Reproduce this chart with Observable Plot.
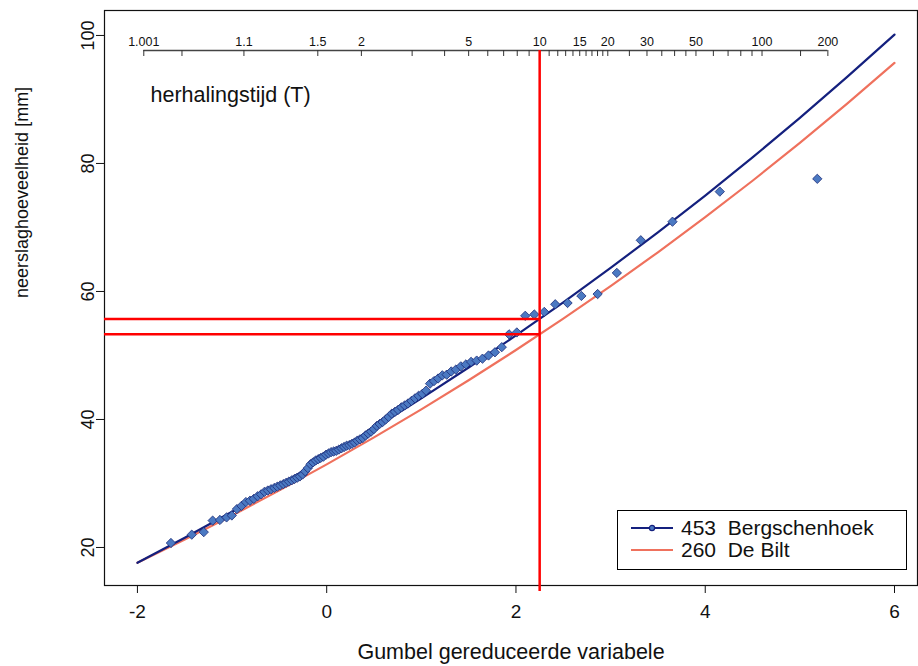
<!DOCTYPE html>
<html>
<head>
<meta charset="utf-8">
<script src="https://cdn.jsdelivr.net/npm/d3@7"></script>
<script src="https://cdn.jsdelivr.net/npm/@observablehq/plot@0.6"></script>
<style>
  body { margin: 0; background: #fff; font-family: "Liberation Sans", Arial, sans-serif; }
  #wrap { position: relative; width: 918px; height: 666px; }
  #legend { position: absolute; left: 617px; top: 510px; width: 288px; height: 58px; border: 1px solid #000; background: #fff; }
  #legend .row { position: absolute; left: 13px; display: flex; align-items: center; }
  #legend span { white-space: pre; font-size: 21px; color: #111; margin-left: 8px; line-height: 21px; }
</style>
</head>
<body>
<div id="wrap"></div>
<script>
// Gumbel reduced variate of the observed annual maxima (Bergschenhoek)
const gumbelX = [
  -1.646,-1.426,-1.299,-1.205,-1.128,-1.058,-1.003,-0.949,-0.900,-0.854,
  -0.811,-0.770,-0.730,-0.693,-0.657,-0.622,-0.588,-0.554,-0.522,-0.490,
  -0.459,-0.429,-0.399,-0.369,-0.340,-0.311,-0.283,-0.255,-0.227,-0.199,
  -0.171,-0.144,-0.116,-0.089,-0.062,-0.034,-0.007,0.020,0.047,0.074,
  0.101,0.129,0.156,0.184,0.211,0.239,0.267,0.295,0.324,0.352,
  0.381,0.410,0.439,0.469,0.499,0.530,0.560,0.591,0.623,0.655,
  0.688,0.721,0.754,0.789,0.824,0.859,0.896,0.933,0.971,1.010,
  1.050,1.092,1.134,1.177,1.222,1.268,1.316,1.365,1.417,1.471,
  1.526,1.585,1.646,1.710,1.778,1.850,1.927,2.009,2.098,2.194,
  2.299,2.415,2.545,2.691,2.863,3.066,3.319,3.654,4.154,5.184
];
// Observed precipitation amounts [mm]
const observedMM = [
  20.7,22.0,22.4,24.2,24.3,24.7,25.0,26.0,26.5,27.1,
  27.3,27.6,28.0,28.3,28.7,28.9,29.1,29.3,29.5,29.7,
  29.9,30.1,30.3,30.5,30.7,30.9,31.1,31.4,31.9,32.4,
  33.0,33.3,33.6,33.8,34.0,34.2,34.5,34.7,34.9,35.0,
  35.1,35.3,35.5,35.7,35.9,36.0,36.2,36.4,36.7,36.9,
  37.1,37.5,37.8,38.1,38.5,39.0,39.3,39.6,40.0,40.4,
  40.9,41.2,41.5,41.9,42.2,42.5,42.9,43.3,43.7,44.0,
  44.5,45.6,46.0,46.4,46.9,47.0,47.5,47.8,48.3,48.6,
  49.0,49.2,49.5,50.0,50.5,51.3,53.3,53.6,56.2,56.4,
  56.8,58.0,58.2,59.3,59.6,62.9,68.0,70.9,75.6,77.6
];
// Fitted curves
const curveX = [-2,-1.5,-1,-0.5,0,0.5,1,1.5,2,2.5,3,3.5,4,4.5,5,5.5,6];
const bergschenhoekFit = [17.60,21.51,25.57,29.77,34.12,38.63,43.29,48.12,53.13,58.31,63.68,69.24,74.99,80.95,87.13,93.52,100.14];
const deBiltFit = [17.60,21.23,25.00,28.92,32.98,37.20,41.58,46.13,50.85,55.75,60.84,66.12,71.60,77.30,83.21,89.35,95.72];
const seriesNames = ["453  Bergschenhoek", "260  De Bilt"];
const seriesColors = ["#14207e", "#ef715d"];

// Return period axis
const returnTicks = [1.001,1.01,1.1,1.5,2,3,4,5,6,7,8,9,10,11,12,13,14,15,16,17,18,19,20,25,30,35,40,45,50,60,70,80,90,100,150,200];
const returnLabels = [1.001,1.1,1.5,2,5,10,15,20,30,50,100,200];
const markerT = 10;
const markerLevels = [55.7, 53.3];

const xDomain = [-2.348, 6.243];
const yDomain = [14.06, 103.9];
const xTicks = [-2, 0, 2, 4, 6];
const yTicks = [20, 40, 60, 80, 100];
const xTitle = "Gumbel gereduceerde variabele";
const yTitle = "neerslaghoeveelheid [mm]";
const tTitle = "herhalingstijd (T)";

const reduced = T => -Math.log(-Math.log(1 - 1 / T));

const points = gumbelX.map((x, i) => ({x, y: observedMM[i]}));
const curves = [
  ...curveX.map((x, i) => ({x, y: deBiltFit[i], s: seriesNames[1]})),
  ...curveX.map((x, i) => ({x, y: bergschenhoekFit[i], s: seriesNames[0]}))
];

const W = 918, H = 666, mL = 104, mR = 1, mT = 10, mB = 81;
// data level of the inner return-period axis line (40 px below the frame top)
const topAxisLevel = yDomain[1] - (40 / (H - mT - mB)) * (yDomain[1] - yDomain[0]);

const font = "Liberation Sans, Arial, sans-serif";

const chart = Plot.plot({
  width: W,
  height: H,
  marginLeft: mL,
  marginRight: mR,
  marginTop: mT,
  marginBottom: mB,
  x: {domain: xDomain},
  y: {domain: yDomain},
  style: {fontFamily: font, background: "#fff", color: "#111", overflow: "visible"},
  marks: [
    Plot.frame({stroke: "#111", strokeWidth: 1.2}),
    Plot.axisX({ticks: xTicks, tickSize: 8, tickPadding: 11, fontSize: 19, tickFormat: d => String(d), label: null}),
    Plot.axisY({ticks: yTicks, tickSize: 8, tickPadding: 3, tickRotate: -90, fontSize: 18, tickFormat: d => String(d), label: null}),
    Plot.text([xTitle], {text: d => d, frameAnchor: "bottom", dy: 73, fontSize: 21.5}),
    Plot.text([yTitle], {text: d => d, frameAnchor: "left", dx: -82, rotate: -90, fontSize: 18}),
    // return period axis inside the plot
    Plot.ruleY([topAxisLevel], {x1: () => reduced(returnTicks[0]), x2: () => reduced(returnTicks[returnTicks.length - 1]), stroke: "#444", strokeWidth: 1.3}),
    Plot.ruleX(returnTicks, {x: reduced, insetTop: 40, insetBottom: 529, stroke: "#333", strokeWidth: 1}),
    Plot.text(returnLabels, {x: reduced, text: d => String(d), frameAnchor: "top", dy: 27, fontSize: 12.5, fill: "#111"}),
    Plot.text([tTitle], {text: d => d, frameAnchor: "top-left", dx: 46, dy: 76, textAnchor: "start", fontSize: 21.5}),
    // fitted curves
    Plot.line(curves, {x: "x", y: "y", z: "s", stroke: "s", strokeWidth: 2.2}),
    // observations
    Plot.dot(points, {x: "x", y: "y", symbol: "diamond2", r: 4.2, fill: "#4b79c2", stroke: "#1c2c78", strokeWidth: 0.8}),
    // T = 10 markers
    Plot.ruleX([markerT], {x: reduced, insetTop: 40, insetBottom: -6, stroke: "#ff0000", strokeWidth: 2.5}),
    Plot.ruleY(markerLevels, {x1: () => xDomain[0], x2: () => reduced(markerT), stroke: "#ff0000", strokeWidth: 2.5})
  ],
  color: {domain: seriesNames, range: seriesColors}
});

const wrap = document.getElementById("wrap");
wrap.appendChild(chart);

// legend
const legend = document.createElement("div");
legend.id = "legend";
seriesNames.forEach((name, i) => {
  const row = document.createElement("div");
  row.className = "row";
  row.style.top = (i === 0 ? 6 : 28) + "px";
  const svg = d3.create("svg").attr("width", 42).attr("height", 12);
  svg.append("line").attr("x1", 0).attr("x2", 42).attr("y1", 6).attr("y2", 6)
    .attr("stroke", seriesColors[i]).attr("stroke-width", 2.2);
  if (i === 0) svg.append("circle").attr("cx", 21).attr("cy", 6).attr("r", 2.6)
    .attr("fill", "#4b79c2").attr("stroke", seriesColors[0]).attr("stroke-width", 1.2);
  row.appendChild(svg.node());
  const span = document.createElement("span");
  span.textContent = name;
  row.appendChild(span);
  legend.appendChild(row);
});
wrap.appendChild(legend);
</script>
</body>
</html>
